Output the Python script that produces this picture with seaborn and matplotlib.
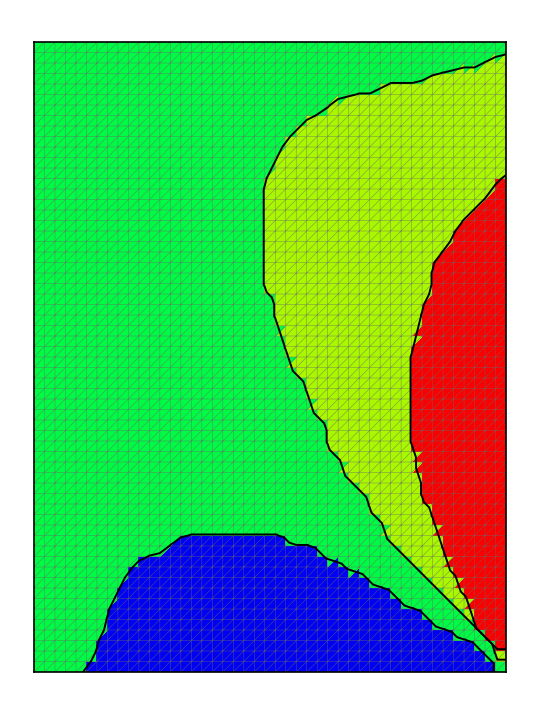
import numpy as np
import matplotlib
matplotlib.use("Agg")
import matplotlib.pyplot as plt
import matplotlib.tri as mtri
from matplotlib.colors import ListedColormap
from matplotlib.path import Path
import seaborn as sns

# ------------------------------
# Mesh size (cells)
# ------------------------------
n_cols = 45
n_rows = 60

# region colours: 0 blue, 1 green, 2 yellow-green, 3 red
region_colors = ['#0000f2', '#00fb44', '#aaf800', '#fa0000']

# ------------------------------
# Region boundaries (grid units, y up)
# ------------------------------
yg_bx = [44.7, 44.7, 44.2, 42.8, 42.5, 37.9, 37.1, 33.3, 32.8, 30.1, 29.8, 28.2,
         27.9, 26.6, 25.4, 24.7, 23.9, 23.6, 23.0, 22.3, 21.8, 21.8, 22.3, 22.2,
         23.0, 23.2, 23.7, 24.7, 25.6, 26.1, 27.0, 27.5, 28.2, 29.8, 31.7, 33.3,
         34.4, 35.8, 37.8, 39.0, 40.9, 42.5, 43.8, 44.7]
yg_by = [59.9, 58.8, 58.5, 58.2, 57.5, 57.2, 56.3, 56.3, 55.3, 55.1, 54.7, 54.2,
         53.2, 53.0, 52.1, 50.9, 50.9, 49.6, 49.2, 47.0, 45.8, 38.3, 38.0, 36.1,
         35.4, 33.8, 31.9, 29.0, 27.8, 26.2, 24.3, 24.0, 21.4, 19.0, 16.4, 13.8,
         12.3, 10.7, 8.8, 7.1, 5.2, 3.7, 2.4, 0.9]

red_bx = [44.1, 43.5, 42.8, 41.8, 40.9, 39.9, 39.0, 38.0, 37.9, 37.0, 36.8, 36.3,
          36.0, 36.1, 36.5, 37.1, 38.0, 38.9, 39.4, 40.3, 41.3, 42.2, 43.5, 44.1,
          45.1]
red_by = [47.1, 45.4, 44.7, 44.0, 43.0, 41.4, 40.2, 38.6, 36.1, 35.1, 33.5, 31.3,
          25.9, 23.0, 20.2, 16.7, 15.4, 12.6, 10.4, 9.0, 7.1, 4.7, 3.3, 2.1,
          1.1]

blue_bx = [5.0, 5.0, 5.9, 6.0, 7.0, 7.1, 7.9, 8.1, 9.2, 9.2, 10.8, 12.1, 13.1,
           14.0, 22.9, 24.1, 24.8, 26.0, 27.9, 30.1, 31.7, 33.9, 35.8, 37.8,
           39.0, 41.3, 42.8, 43.8, 44.1]
blue_by = [-1.0, 0.95, 1.4, 3.3, 4.3, 6.1, 6.9, 8.1, 9.0, 10.0, 11.0, 11.4, 12.3,
           13.0, 13.0, 12.6, 12.1, 11.9, 10.7, 9.7, 8.8, 7.5, 6.2, 5.0, 4.0, 2.8,
           1.4, 0.5, -1.0]


def region_path(bx, by, close):
    pts = list(zip(bx, by)) + close
    return Path(pts)


yg_path = region_path(yg_bx, yg_by, [(47, yg_by[-1]), (47, 62), (yg_bx[0], 62)])
red_path = region_path(red_bx, red_by, [(47, red_by[-1]), (47, red_by[0])])
blue_path = region_path(blue_bx, blue_by, [])


def classify(pts):
    lab = np.ones(len(pts), dtype=int)
    lab[yg_path.contains_points(pts)] = 2
    lab[red_path.contains_points(pts)] = 3
    lab[blue_path.contains_points(pts)] = 0
    return lab


# ------------------------------
# Triangular mesh ("/" diagonals)
# ------------------------------
gx, gy = np.meshgrid(np.arange(n_cols + 1), np.arange(n_rows + 1))
x = gx.ravel().astype(float)
y = gy.ravel().astype(float)

tris = []
for j in range(n_rows):
    for i in range(n_cols):
        a = j * (n_cols + 1) + i
        b = a + 1
        c = a + (n_cols + 1)
        d = c + 1
        tris.append([a, b, d])
        tris.append([a, d, c])
tris = np.array(tris)
tri = mtri.Triangulation(x, y, tris)

cent = np.column_stack([x[tris].mean(axis=1), y[tris].mean(axis=1)])
face_lab = classify(cent)


def node_fraction(mask):
    # share of the triangles around each node that are inside the mask
    tot = np.zeros(len(x))
    cnt = np.zeros(len(x))
    for k in range(3):
        np.add.at(tot, tris[:, k], mask.astype(float))
        np.add.at(cnt, tris[:, k], 1.0)
    return tot / cnt


# ------------------------------
# Plot
# ------------------------------
sns.set_style("white")
fig = plt.figure(figsize=(5.39, 7.13), dpi=100)
ax = fig.add_axes([34 / 539, 41 / 713, 472 / 539, 630 / 713])

cmap = ListedColormap(region_colors)
ax.tripcolor(tri, facecolors=face_lab, cmap=cmap, vmin=-0.5, vmax=3.5,
             edgecolors='none')
ax.triplot(tri, color='#6a6a6a', lw=0.4, alpha=0.7)

for mask in [face_lab == 0, face_lab >= 2, face_lab == 3]:
    ax.tricontour(tri, node_fraction(mask), levels=[0.45], colors='black',
                  linewidths=1.4)

ax.set_xlim(0, n_cols)
ax.set_ylim(0, n_rows)
ax.set_xticks([])
ax.set_yticks([])
for s in ax.spines.values():
    s.set_visible(True)
    s.set_color('black')
    s.set_linewidth(1.2)

fig.savefig("out.png", dpi=100)
